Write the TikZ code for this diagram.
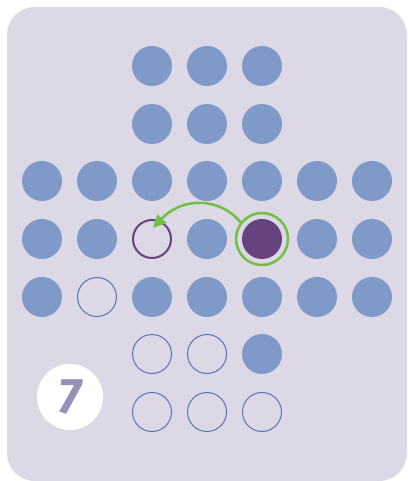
\documentclass[tikz,border=0pt]{standalone}
\usepackage{fontspec}
\setsansfont{Fira Sans}
\usetikzlibrary{arrows.meta}

\definecolor{boardbg}{HTML}{DCD8E6}
\definecolor{pegblue}{HTML}{7F99C8}
\definecolor{holeblue}{HTML}{5A74BA}
\definecolor{movepeg}{HTML}{66437F}
\definecolor{jumpgreen}{HTML}{72BF44}
\definecolor{badgetext}{HTML}{9890B8}

\begin{document}
\begin{tikzpicture}[x=1pt,y=1pt,
    peg/.style={circle,fill=pegblue,minimum size=40pt,inner sep=0pt},
    hole/.style={circle,draw=holeblue,line width=1pt,minimum size=39pt,inner sep=0pt},
    target/.style={circle,draw=movepeg,line width=2pt,minimum size=38pt,inner sep=0pt},
    mover/.style={circle,fill=movepeg,minimum size=40pt,inner sep=0pt},
    ring/.style={circle,draw=jumpgreen,line width=2.5pt,minimum size=52pt,inner sep=0pt},
    badge/.style={circle,fill=white,minimum size=66pt,inner sep=0pt,
                  text=badgetext,font=\fontsize{50}{50}\sffamily\bfseries\itshape}]
  \useasboundingbox (0,0) rectangle (407,481);
  \fill[boardbg,rounded corners=28pt] (7,0) rectangle (407,474);
  % top arm
  \node[peg]    (a2) at (152,415) {};
  \node[peg]    (a3) at (207,415) {};
  \node[peg]    (a4) at (262,415) {};
  \node[peg]    (b2) at (152,357) {};
  \node[peg]    (b3) at (207,357) {};
  \node[peg]    (b4) at (262,357) {};
  % middle rows
  \node[peg]    (c0) at ( 42,300) {};
  \node[peg]    (c1) at ( 97,300) {};
  \node[peg]    (c2) at (152,300) {};
  \node[peg]    (c3) at (207,300) {};
  \node[peg]    (c4) at (262,300) {};
  \node[peg]    (c5) at (317,300) {};
  \node[peg]    (c6) at (372,300) {};
  \node[peg]    (d0) at ( 42,242) {};
  \node[peg]    (d1) at ( 97,242) {};
  \node[target] (d2) at (152,242) {};
  \node[peg]    (d3) at (207,242) {};
  \node[mover]  (d4) at (262,242) {};
  \node[peg]    (d5) at (317,242) {};
  \node[peg]    (d6) at (372,242) {};
  \node[peg]    (e0) at ( 42,184) {};
  \node[hole]   (e1) at ( 97,184) {};
  \node[peg]    (e2) at (152,184) {};
  \node[peg]    (e3) at (207,184) {};
  \node[peg]    (e4) at (262,184) {};
  \node[peg]    (e5) at (317,184) {};
  \node[peg]    (e6) at (372,184) {};
  % bottom arm
  \node[hole]   (f2) at (152,127) {};
  \node[hole]   (f3) at (207,127) {};
  \node[peg]    (f4) at (262,127) {};
  \node[hole]   (g2) at (152, 69) {};
  \node[hole]   (g3) at (207, 69) {};
  \node[hole]   (g4) at (262, 69) {};
  % the move
  \node[ring]   (sel) at (d4) {};
  \coordinate   (land) at (153,253);
  \draw[jumpgreen,line width=2.5pt,-{Triangle[length=13pt,width=12pt]}]
    (sel.142) .. controls (222,282) and (184,286) .. (land);
  % step number
  \node[badge]  (step7) at (70,84) {7};
\end{tikzpicture}
\end{document}
